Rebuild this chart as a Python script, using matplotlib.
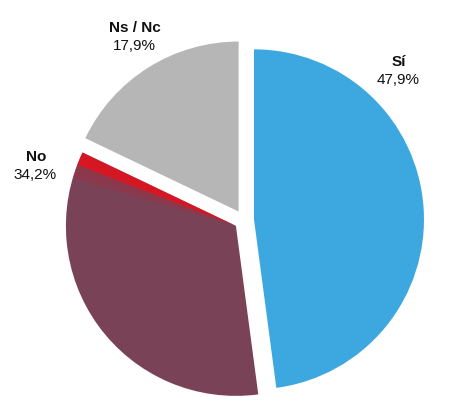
import matplotlib.pyplot as plt
from matplotlib.patches import Wedge
import numpy as np

labels = ["Sí", "No", "Ns / Nc"]
values = [47.9, 34.2, 17.9]
colors = ["#3DA8E0", "#7A4256", "#B6B6B6"]

H = 419
fig = plt.figure(figsize=(4.5, 4.19), dpi=100)
ax = fig.add_axes([0, 0, 1, 1])

R = 170
cx, cy = 244, H - 220
gap = 10  # explode offset, in pixels (data units here)
wedges, _ = ax.pie(values, colors=colors, radius=R, center=(cx, cy),
                   startangle=90, counterclock=False,
                   explode=[gap] * 3, wedgeprops=dict(linewidth=0),
                   frame=True)
ax.set_xlim(0, 450)
ax.set_ylim(0, H)
ax.set_aspect("equal")
ax.axis("off")

# red highlight along the upper edge of the "No" slice
top_no = 90 - 360 * (values[0] + values[1]) / 100 + 360
c_no = wedges[1].center
ax.add_patch(Wedge(c_no, R, top_no + 4, top_no + 9, color="#B0283C",
                   alpha=0.35, linewidth=0))
ax.add_patch(Wedge(c_no, R, top_no, top_no + 4.5, color="#E0131E",
                   alpha=0.9, linewidth=0))

# labels (pixel positions, y from top)
pos = {"Sí": (399, 62), "No": (36, 157), "Ns / Nc": (135, 28)}
for lab, v in zip(labels, values):
    x, y = pos[lab]
    ax.text(x, H - y, lab, ha="center", va="center", fontsize=11,
            fontweight="bold", family="Liberation Sans", color="#111111")
    pct = f"{v:.1f}".replace(".", ",") + "%"
    ax.text(x - 1, H - y - 18, pct, ha="center", va="center", fontsize=11,
            family="Liberation Sans", color="#111111")

fig.savefig("out.png", dpi=100)
